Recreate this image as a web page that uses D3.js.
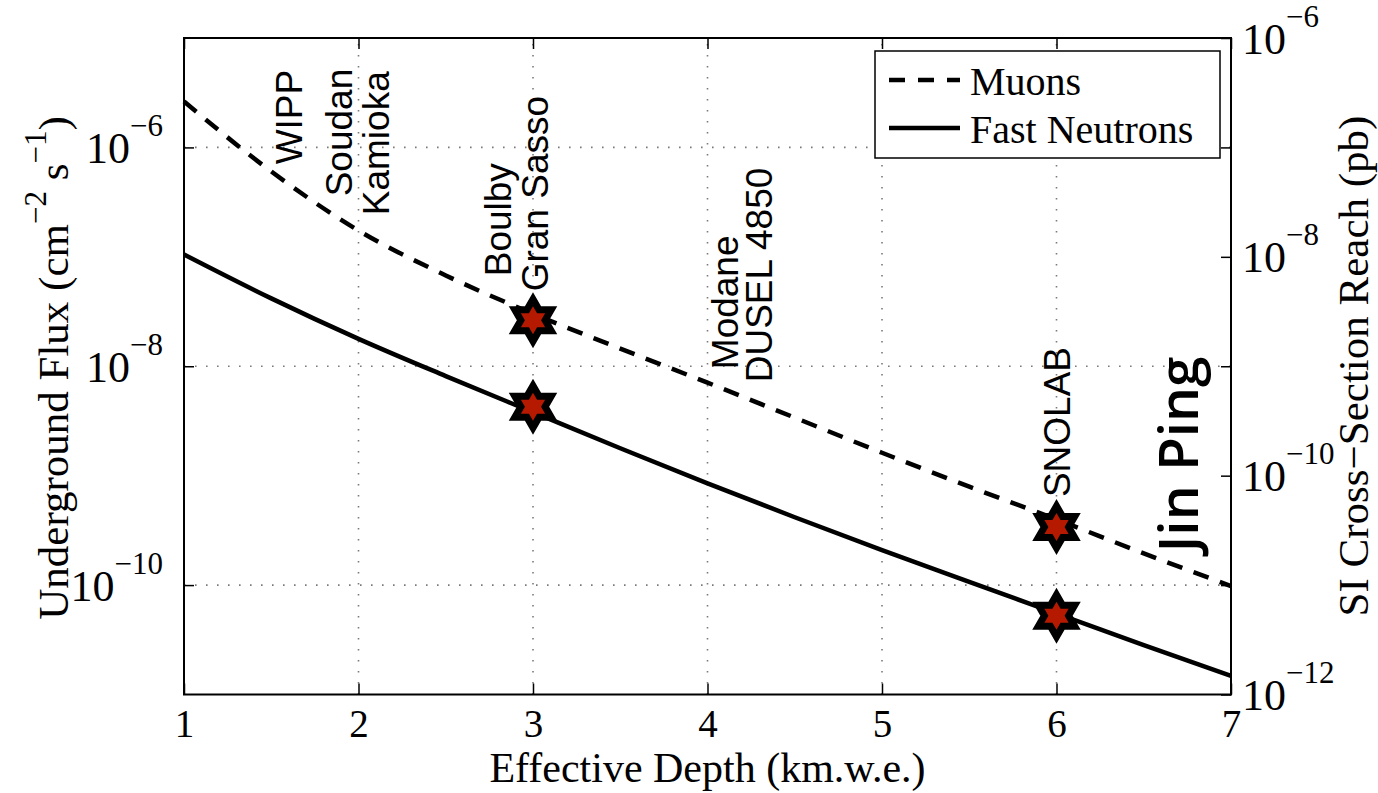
<!DOCTYPE html>
<html>
<head>
<meta charset="utf-8">
<script src="https://cdn.jsdelivr.net/npm/d3@7"></script>
<style>
  html, body { margin: 0; padding: 0; background: #fff; }
  svg { display: block; }
</style>
</head>
<body>
<svg id="chart" width="1378" height="793"></svg>
<script>
// Effective depth (km.w.e.) at which each flux value is given
const depth = [1, 1.5, 2, 2.5, 3, 3.5, 4, 4.5, 5, 5.5, 6, 6.5, 7];
// Underground muon flux (cm^-2 s^-1)
const muonFlux = [2.63e-6, 6.03e-7, 1.74e-7, 6.76e-8, 3.02e-8, 1.45e-8, 7.08e-9,
                  3.39e-9, 1.62e-9, 7.94e-10, 3.98e-10, 1.95e-10, 9.8e-11];
// Underground fast-neutron flux (cm^-2 s^-1)
const neutronFlux = [1.05e-7, 4.17e-8, 1.78e-8, 8.13e-9, 3.80e-9, 1.78e-9, 8.51e-10,
                     4.17e-10, 2.09e-10, 1.07e-10, 5.50e-11, 2.82e-11, 1.48e-11];

// Highlighted laboratories: depth and the flux at each marker
const markerDepths = [3, 6];
const markerMuon = [2.63e-8, 3.39e-10];
const markerNeutron = [4.27e-9, 5.25e-11];

const xTicks = [1, 2, 3, 4, 5, 6, 7];
const leftTicks = [1e-6, 1e-8, 1e-10];
const rightTicks = [1e-6, 1e-8, 1e-10, 1e-12];
const leftExponents = ["−6", "−8", "−10"];
const rightExponents = ["−6", "−8", "−10", "−12"];

// Laboratory names: depth of the text column and flux where the text starts
const siteNames = ["WIPP", "Soudan", "Kamioka", "Boulby", "Gran Sasso", "Modane", "DUSEL 4850", "SNOLAB"];
const siteDepths = [1.602, 1.891, 2.100, 2.797, 3.014, 4.100, 4.295, 6.0];
const siteFlux = [7.0e-7, 3.57e-7, 2.4e-7, 6.64e-8, 4.84e-8, 9.4e-9, 7.14e-9, 6.37e-10];

const legendNames = ["Muons", "Fast Neutrons"];

const svg = d3.select("#chart");
const L = 184, R = 1231, T = 38, B = 694.5;

const x = d3.scaleLinear().domain([1, 7]).range([L, R]);
const y = d3.scaleLog().domain([1e-11, 1e-5]).range([B, T]);
const y2 = d3.scaleLog().domain([1e-12, 1e-6]).range([B, T]);

const serif = "'Liberation Serif', 'Times New Roman', serif";
const sans = "'Liberation Sans', Arial, Helvetica, sans-serif";

// Dotted grid
const grid = svg.append("g").attr("stroke", "#7a7a7a").attr("stroke-width", 1.6)
  .attr("stroke-dasharray", "1.6,9.4").attr("fill", "none");
grid.selectAll("line.v").data(xTicks.filter(d => d > 1 && d < 7)).join("line")
  .attr("x1", d => x(d)).attr("x2", d => x(d)).attr("y1", B).attr("y2", T);
grid.selectAll("line.h").data(leftTicks).join("line")
  .attr("x1", L).attr("x2", R).attr("y1", d => y(d)).attr("y2", d => y(d));

// Flux curves
const line = d3.line().x((d, i) => x(depth[i])).y(d => y(d)).curve(d3.curveMonotoneX);
const plot = svg.append("g");
plot.append("path").attr("d", line(muonFlux)).attr("fill", "none")
  .attr("stroke", "#000").attr("stroke-width", 4.5).attr("stroke-dasharray", "16,12");
plot.append("path").attr("d", line(neutronFlux)).attr("fill", "none")
  .attr("stroke", "#000").attr("stroke-width", 4.5);

// Six-pointed star markers
function hexagram(r) {
  const pts = [];
  for (let k = 0; k < 12; k++) {
    const a = -Math.PI / 2 + k * Math.PI / 6;
    const rr = k % 2 === 0 ? r : r / Math.sqrt(3);
    pts.push([rr * Math.cos(a), rr * Math.sin(a)]);
  }
  return "M" + pts.map(p => p[0].toFixed(2) + "," + p[1].toFixed(2)).join("L") + "Z";
}
const markerData = [];
markerDepths.forEach((dp, i) => {
  markerData.push([dp, markerMuon[i]], [dp, markerNeutron[i]]);
});
plot.selectAll("path.star").data(markerData).join("path")
  .attr("class", "star")
  .attr("d", hexagram(21))
  .attr("transform", d => `translate(${x(d[0])},${y(d[1])})`)
  .attr("fill", "#b51a00").attr("stroke", "#000").attr("stroke-width", 7)
  .attr("stroke-linejoin", "miter");

// Laboratory labels (vertical)
const capHalf = 13;
svg.append("g").selectAll("text").data(siteNames).join("text")
  .attr("transform", (d, i) => `translate(${x(siteDepths[i]) + capHalf},${y(siteFlux[i])}) rotate(-90)`)
  .attr("font-family", sans).attr("font-size", 37).attr("fill", "#000")
  .text(d => d);

svg.append("text")
  .attr("transform", `translate(${x(6.69) + 21},${y(2.0e-10)}) rotate(-90)`)
  .attr("font-family", "'Open Sans', sans-serif").attr("font-weight", 600)
  .attr("font-size", 55).attr("fill", "#000")
  .text("Jin Ping");

// Axes
function supLabels(sel, exps, anchor) {
  sel.selectAll(".tick text").each(function (d, i) {
    const t = d3.select(this);
    t.text(null).attr("text-anchor", anchor).attr("dy", null).attr("y", 15)
      .attr("font-family", serif).attr("font-size", 44).attr("fill", "#000");
    t.append("tspan").text("10");
    t.append("tspan").attr("font-size", 31).attr("dy", -27).text(exps[i]);
  });
}

const gx = svg.append("g").attr("transform", `translate(0,${B})`)
  .call(d3.axisBottom(x).tickValues(xTicks).tickFormat(d3.format("d"))
    .tickSize(-11).tickPadding(15));
gx.selectAll(".tick text").attr("font-family", serif).attr("font-size", 39).attr("fill", "#000");

svg.append("g").attr("transform", `translate(0,${T})`)
  .call(d3.axisTop(x).tickValues(xTicks).tickFormat("").tickSize(-11));

const gy = svg.append("g").attr("transform", `translate(${L},0)`)
  .call(d3.axisLeft(y).tickValues(leftTicks).tickSize(-10).tickPadding(21));
supLabels(gy, leftExponents, "end");

svg.append("g").attr("transform", `translate(${R},0)`)
  .call(d3.axisRight(y).tickValues(leftTicks).tickFormat("").tickSize(-10));

const gy2 = svg.append("g").attr("transform", `translate(${R},0)`)
  .call(d3.axisRight(y2).tickValues(rightTicks).tickSize(-10).tickPadding(11));
supLabels(gy2, rightExponents, "start");

svg.selectAll(".domain").remove();
svg.selectAll(".tick line").attr("stroke", "#000").attr("stroke-width", 1.5);

// Frame
svg.append("rect").attr("x", L).attr("y", T).attr("width", R - L).attr("height", B - T)
  .attr("fill", "none").attr("stroke", "#000").attr("stroke-width", 2);

// Axis titles
svg.append("text")
  .attr("x", (L + R) / 2).attr("y", 782).attr("text-anchor", "middle")
  .attr("font-family", serif).attr("font-size", 42).attr("fill", "#000")
  .text("Effective Depth (km.w.e.)");

const yt = svg.append("text")
  .attr("transform", `translate(68,368) rotate(-90)`).attr("text-anchor", "middle")
  .attr("font-family", serif).attr("font-size", 43).attr("fill", "#000");
yt.append("tspan").text("Underground Flux (cm");
yt.append("tspan").attr("font-size", 31).attr("dy", -22).text("−2");
yt.append("tspan").attr("dy", 22).text(" s");
yt.append("tspan").attr("font-size", 31).attr("dy", -22).text("−1");
yt.append("tspan").attr("dy", 22).text(")");

svg.append("text")
  .attr("transform", `translate(1368,366) rotate(-90)`).attr("text-anchor", "middle")
  .attr("font-family", serif).attr("font-size", 43).attr("fill", "#000")
  .text("SI Cross−Section Reach (pb)");

// Legend
const lg = svg.append("g");
lg.append("rect").attr("x", 875).attr("y", 51).attr("width", 345).attr("height", 107)
  .attr("fill", "#fff").attr("stroke", "#000").attr("stroke-width", 1.5);
const legendDash = ["16,13", null];
const legendRows = [80, 128];
legendNames.forEach((name, i) => {
  lg.append("line").attr("x1", 889).attr("x2", 960)
    .attr("y1", legendRows[i]).attr("y2", legendRows[i])
    .attr("stroke", "#000").attr("stroke-width", 4.5)
    .attr("stroke-dasharray", legendDash[i]);
  lg.append("text").attr("x", 970).attr("y", legendRows[i] + 15)
    .attr("font-family", serif).attr("font-size", 40).attr("fill", "#000")
    .text(name);
});
</script>
</body>
</html>
